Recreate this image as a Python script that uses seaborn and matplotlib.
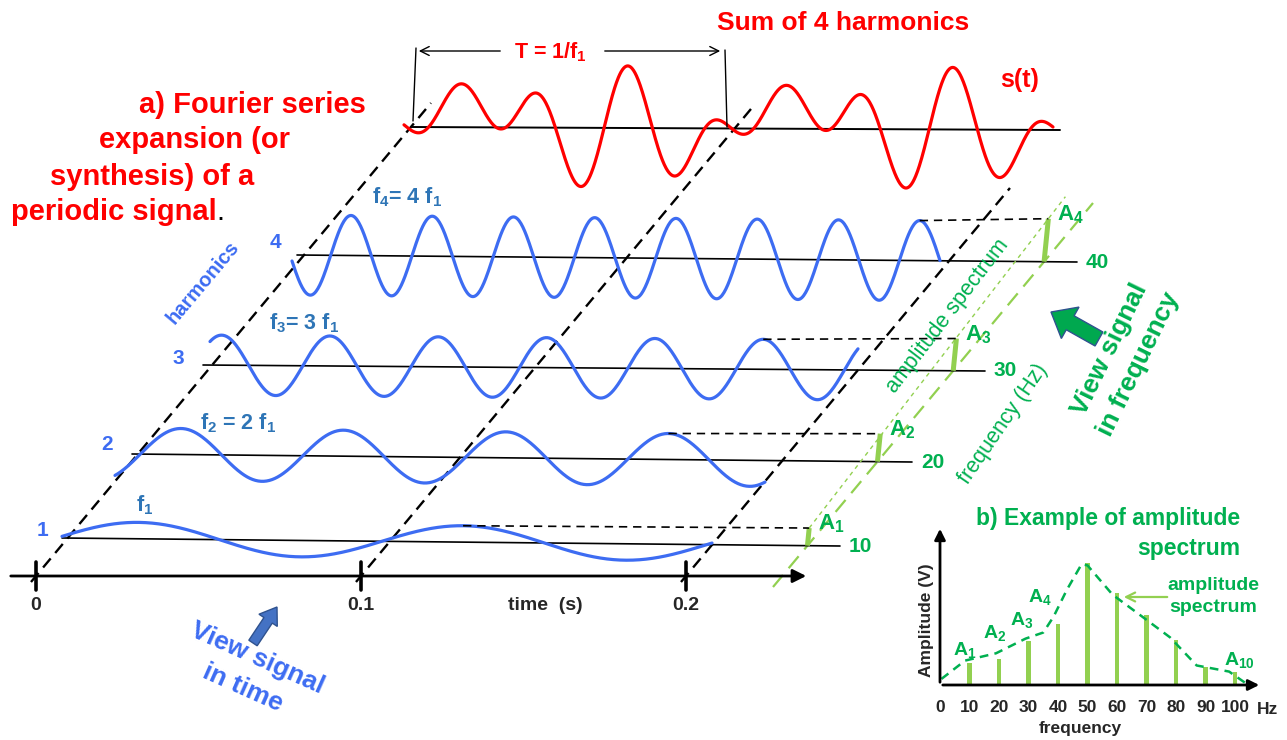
import numpy as np
import matplotlib.pyplot as plt
from matplotlib.patches import FancyArrow
import seaborn as sns

# harmonics that make up s(t)
harmonic_order = [1, 2, 3, 4]
harmonic_freq = [10, 20, 30, 40]              # Hz
harmonic_amp = [0.41, 0.65, 0.75, 1.00]       # A1..A4 (relative)
harmonic_phase = [0.10, -0.98, 0.90, -2.99]   # rad

time_ticks = [0, 0.1, 0.2]
time_labels = ['0', '0.1', '0.2']

# b) example amplitude spectrum
spec_freq = [10, 20, 30, 40, 50, 60, 70, 80, 90, 100]
spec_amp = [1.8, 2.1, 3.6, 5.0, 10.0, 7.5, 5.7, 3.7, 1.5, 1.1]
env_freq = [0.5, 8.5, 19, 29, 35, 38.5, 43, 48, 50, 58.5, 68, 78, 87, 98, 104.5]
env_amp = [0.5, 2.0, 2.6, 3.8, 4.3, 5.6, 7.8, 9.9, 9.8, 7.4, 5.7, 3.9, 1.6, 1.1, 0.0]
spec_ticks = [0, 10, 20, 30, 40, 50, 60, 70, 80, 90, 100]

RED = '#ff0000'
BLUE = '#3d6cf2'
DBLUE = '#2e75b6'
GREEN = '#00b050'
LGREEN = '#92d050'

sns.set_theme(style='white')
plt.rcParams['font.family'] = ['Liberation Sans', 'DejaVu Sans']
plt.rcParams['font.weight'] = 'bold'
plt.rcParams['mathtext.fontset'] = 'custom'
plt.rcParams['mathtext.rm'] = 'Liberation Sans:bold'
plt.rcParams['mathtext.it'] = 'Liberation Sans:bold'
plt.rcParams['mathtext.bf'] = 'Liberation Sans:bold'

W, H = 1287, 740
fig = plt.figure(figsize=(W / 100, H / 100), dpi=100)
ax = fig.add_axes([0, 0, 1, 1])

# layout of the oblique drawing, in pixels
px_per_s = 3250
axis_y = 576
t0_x = 36
slope = 0.835  # dx/dy of the oblique lines
base_a = [(62, 538), (132, 454), (203, 365), (297, 255)]
base_b = [(840, 546), (912, 462), (985, 371), (1077, 262)]
wave_span = [(62, 712), (115, 765), (210, 858), (292, 940)]
wave_px = 40
stem_px = 43
sum_a, sum_b = (412, 127), (1060, 130)
sum_span = (404, 1053)
sum_px = 29.7
fax_a, fax_b = (773, 587), (1093, 203)


def line_y(a, b, x):
    return a[1] + (b[1] - a[1]) * (np.asarray(x, dtype=float) - a[0]) / (b[0] - a[0])


# time axis
ax.annotate('', xy=(809, axis_y), xytext=(8, axis_y),
            arrowprops=dict(arrowstyle='-|>', color='black', lw=2, mutation_scale=20))
for t, lab in zip(time_ticks, time_labels):
    xt = t0_x + t * px_per_s
    ax.plot([xt, xt], [562, 590], color='black', lw=2.6)
    ax.text(xt, 605, lab, ha='center', va='center', fontsize=14)
ax.text(545, 605, 'time  (s)', ha='center', va='center', fontsize=14)

# oblique dashed lines through the time ticks
for t, ytop in zip(time_ticks, [103, 108, 188]):
    xt = t0_x + t * px_per_s
    ax.plot([xt - slope * 6, xt + slope * (axis_y - ytop)], [axis_y + 6, ytop],
            color='black', lw=1.7, ls=(0, (5, 3)))

# frequency axis and amplitude line
ax.plot([fax_a[0], fax_b[0]], [fax_a[1], fax_b[1]], color=LGREEN, lw=1.6, ls=(0, (7, 4)))
fs = (fax_b[0] - fax_a[0]) / (fax_a[1] - fax_b[1])

tops = []
for k in range(4):
    a, b = base_a[k], base_b[k]
    f, amp, ph = harmonic_freq[k], harmonic_amp[k], harmonic_phase[k]
    ax.plot([a[0], b[0]], [a[1], b[1]], color='black', lw=1.2)
    x0, x1 = wave_span[k]
    xs = np.linspace(x0, x1, 700)
    tt = (xs - x0) / px_per_s
    ys = line_y(a, b, xs) - wave_px * amp * np.sin(2 * np.pi * f * tt + ph)
    sns.lineplot(x=xs, y=ys, sort=False, estimator=None, color=BLUE, lw=2.3, ax=ax)

    # stem on the frequency axis
    m = (b[1] - a[1]) / (b[0] - a[0])
    yb = (a[1] + m * (fax_a[0] + fs * fax_a[1] - a[0])) / (1 + m * fs)
    xb = fax_a[0] + fs * (fax_a[1] - yb)
    h = stem_px * amp
    xtop, ytop = xb + 0.1 * h, yb - h
    tops.append((xtop, ytop))
    ax.plot([xb, xtop], [yb, ytop], color=LGREEN, lw=3.6, solid_capstyle='butt')

    # dashed line from the last crest to the stem
    n = np.floor(((x1 - x0) / px_per_s * 2 * np.pi * f - (np.pi / 2 - ph)) / (2 * np.pi))
    xp = x0 + (np.pi / 2 - ph + 2 * np.pi * n) / (2 * np.pi * f) * px_per_s
    yp = line_y(a, b, xp) - wave_px * amp
    ax.plot([xp, xtop], [yp, ytop], color='black', lw=1.2, ls=(0, (5, 3.5)))

    ax.text(xtop + 9, ytop - 4, 'A$_{%d}$' % harmonic_order[k], color=GREEN,
            fontsize=16, ha='left', va='center')
    ax.text(b[0] + 9, b[1], str(f), color=GREEN, fontsize=15, ha='left', va='center')

# amplitude spectrum line through the stem tops
(xa, ya), (xd, yd) = tops[0], tops[-1]
ext = 22
ax.plot([xa, xd + (xd - xa) / (ya - yd) * ext], [ya, yd - ext],
        color=LGREEN, lw=1.0, ls=(0, (3, 3)))

# s(t) = sum of the harmonics
ax.plot([sum_a[0], sum_b[0]], [sum_a[1], sum_b[1]], color='black', lw=1.4)
xs = np.linspace(*sum_span, 1400)
tt = (xs - sum_span[0]) / px_per_s
s = sum(a * np.sin(2 * np.pi * f * tt + p)
        for f, a, p in zip(harmonic_freq, harmonic_amp, harmonic_phase))
sns.lineplot(x=xs, y=line_y(sum_a, sum_b, xs) - 4 - sum_px * s, sort=False,
             estimator=None, color=RED, lw=2.3, ax=ax)

# period bracket
ax.plot([416, 413], [48, 121], color='black', lw=1)
ax.plot([725, 727], [50, 127], color='black', lw=1)
ax.annotate('', xy=(416, 51), xytext=(503, 51),
            arrowprops=dict(arrowstyle='->', color='black', lw=1, mutation_scale=16))
ax.annotate('', xy=(723, 51), xytext=(602, 51),
            arrowprops=dict(arrowstyle='->', color='black', lw=1, mutation_scale=16))
ax.text(550, 52, 'T = 1/f$_1$', color=RED, fontsize=15.5, ha='center', va='center')
ax.text(843, 23, 'Sum of 4 harmonics', color=RED, fontsize=19, ha='center', va='center')
ax.text(1020, 80, 's(t)', color=RED, fontsize=18, ha='center', va='center')

# title a)
for txt, x, y in [('a) Fourier series', 139, 105), ('expansion (or', 99, 140),
                  ('synthesis) of a', 50, 177)]:
    ax.text(x, y, txt, color=RED, fontsize=21, ha='left', va='center')
t_red = ax.text(11, 212, 'periodic signal', color=RED, fontsize=21, ha='left', va='center')
ax.annotate('.', xy=(1, 0), xycoords=t_red, ha='left', va='bottom', fontsize=21,
            fontweight='normal', color='black')

# harmonic labels
for k, (x, y) in enumerate([(42, 531), (107, 445), (178, 358), (275, 243)]):
    ax.text(x, y, str(harmonic_order[k]), color=BLUE, fontsize=15, ha='center', va='center')
for txt, x, y in [('f$_1$', 145, 505), ('f$_2$ = 2 f$_1$', 238, 423),
                  ('f$_3$= 3 f$_1$', 304, 323), ('f$_4$= 4 f$_1$', 407, 197)]:
    ax.text(x, y, txt, color=DBLUE, fontsize=15.5, ha='center', va='center')
ax.text(203, 283, 'harmonics', color=BLUE, fontsize=14.5, rotation=50,
        rotation_mode='anchor', ha='center', va='center')

# view in time
ax.add_patch(FancyArrow(253, 643, 24, -36, width=10, head_width=22, head_length=16,
                        length_includes_head=True, fc='#4472c4', ec='#2f528f', lw=1))
ax.text(257, 658, 'View signal', color=BLUE, fontsize=19, rotation=-24,
        rotation_mode='anchor', ha='center', va='center')
ax.text(243, 688, 'in time', color=BLUE, fontsize=19, rotation=-24,
        rotation_mode='anchor', ha='center', va='center')

# view in frequency
ax.add_patch(FancyArrow(1099, 339, -48, -27, width=16, head_width=36, head_length=22,
                        length_includes_head=True, fc='#00a84f', ec='#2f528f', lw=1))
ax.text(1110, 349, 'View signal', color=GREEN, fontsize=19, rotation=64,
        rotation_mode='anchor', ha='center', va='center')
ax.text(1139, 364, 'in frequency', color=GREEN, fontsize=19, rotation=64,
        rotation_mode='anchor', ha='center', va='center')
ax.text(948, 316, 'amplitude spectrum', color=GREEN, fontsize=15.5, fontweight='normal',
        rotation=52.6, rotation_mode='anchor', ha='center', va='center')
ax.text(1003, 424, 'frequency (Hz)', color=GREEN, fontsize=15.5, fontweight='normal',
        rotation=55.5, rotation_mode='anchor', ha='center', va='center')

# b) labels
ax.text(1240, 518, 'b) Example of amplitude', color=GREEN, fontsize=16.5, ha='right', va='center')
ax.text(1240, 548, 'spectrum', color=GREEN, fontsize=16.5, ha='right', va='center')
for txt, x, y in [('A$_1$', 965, 650), ('A$_2$', 995, 633), ('A$_3$', 1022, 620),
                  ('A$_4$', 1040, 597), ('A$_{10}$', 1239, 660)]:
    ax.text(x, y, txt, color=GREEN, fontsize=14, ha='center', va='center')
ax.text(1213, 585, 'amplitude', color=GREEN, fontsize=14, ha='center', va='center')
ax.text(1213, 607, 'spectrum', color=GREEN, fontsize=14, ha='center', va='center')
ax.annotate('', xy=(1121, 597), xytext=(1170, 597),
            arrowprops=dict(arrowstyle='->', color=LGREEN, lw=1.6, mutation_scale=16))
ax.text(927, 620, 'Amplitude (V)', fontsize=12.5, rotation=90, ha='center', va='center')
ax.text(1080, 728, 'frequency', fontsize=12.5, ha='center', va='center')
ax.text(1267, 710, 'Hz', fontsize=12.5, ha='center', va='center')

ax.set_xlim(0, W)
ax.set_ylim(H, 0)
ax.axis('off')

# inset spectrum
ax_in = fig.add_axes([940 / W, (H - 685) / H, (1262 - 940) / W, (685 - 526) / H])
ax_in.patch.set_alpha(0)
sns.barplot(x=spec_freq, y=spec_amp, native_scale=True, width=0.15, color=LGREEN,
            saturation=1, linewidth=0, errorbar=None, ax=ax_in)
sns.lineplot(x=env_freq, y=env_amp, color=GREEN, lw=1.8, linestyle=(0, (3.5, 2.5)), ax=ax_in)
ax_in.set_xlim(0, 109.15)
ax_in.set_ylim(0, 13.03)
for sp in ax_in.spines.values():
    sp.set_visible(False)
ax_in.annotate('', xy=(1, 0), xytext=(0, 0), xycoords='axes fraction',
               arrowprops=dict(arrowstyle='-|>', color='black', lw=2, mutation_scale=16))
ax_in.annotate('', xy=(0, 1), xytext=(0, 0), xycoords='axes fraction',
               arrowprops=dict(arrowstyle='-|>', color='black', lw=2, mutation_scale=16))
ax_in.set_xticks(spec_ticks)
ax_in.set_xticklabels([str(v) for v in spec_ticks], fontsize=12.5, fontweight='bold')
ax_in.tick_params(axis='x', length=0, pad=11)
ax_in.set_yticks([])
ax_in.set_xlabel('')
ax_in.set_ylabel('')
ax_in.grid(False)

fig.savefig('out.png', dpi=100)
